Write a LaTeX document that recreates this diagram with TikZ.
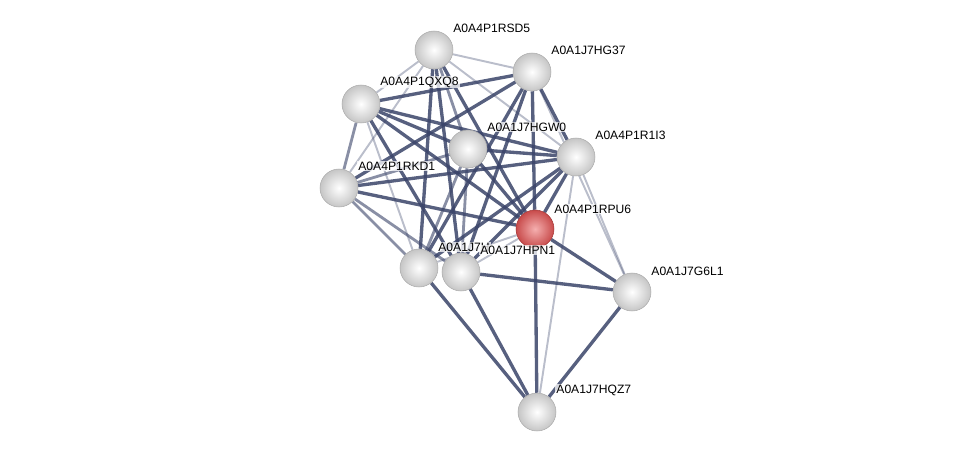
\documentclass[tikz,border=0pt]{standalone}
\usepackage{fontspec}
\setmainfont{Liberation Sans}
\pgfdeclarelayer{edges}
\pgfsetlayers{edges,main}
\definecolor{edgecol}{RGB}{58,68,105}
\definecolor{redin}{RGB}{245,175,175}
\definecolor{redout}{RGB}{200,75,75}
\definecolor{redrim}{RGB}{165,55,55}
\tikzset{
  prot/.style={circle, minimum size=0.76cm, inner sep=0pt, draw=gray!65, line width=0.3pt, inner color=white, outer color=gray!45},
  query/.style={prot, draw=redrim, inner color=redin, outer color=redout},
  lbl/.style={anchor=west, inner sep=0.6pt, fill=white, fill opacity=0.75, text opacity=1, font=\fontsize{6.9}{8}\selectfont},
  strong/.style={draw=edgecol, line width=1.9pt, opacity=0.85},
  medium/.style={draw=edgecol, line width=1.6pt, opacity=0.6},
  weak/.style={draw=edgecol, line width=1.1pt, opacity=0.35},
}
\begin{document}
\begin{tikzpicture}[x=0.02cm, y=-0.02cm]
\useasboundingbox (0,0) rectangle (976,457);
% proteins
\node[prot] (rsd5) at (434,50){};
\node[prot] (hg37) at (532,72){};
\node[prot] (qxq8) at (361,104){};
\node[prot] (hgw0) at (468,149){};
\node[prot] (r1i3) at (576,157){};
\node[prot] (rkd1) at (339,188){};
\node[query] (rpu6) at (535,229){};
\node[prot] (hq7x) at (419,268){};
\node[prot] (hpn1) at (461,272){};
\node[prot] (g6l1) at (632,292){};
\node[prot] (hqz7) at (537,412){};
% interactions
\begin{pgfonlayer}{edges}
\foreach \a/\b in {qxq8/hg37, qxq8/hgw0, qxq8/r1i3, qxq8/rpu6, qxq8/hpn1, rkd1/hg37, rkd1/r1i3,
  rkd1/rpu6, rsd5/hq7x, rsd5/hpn1, rsd5/rpu6, hg37/r1i3, hg37/rpu6, hg37/hq7x, hg37/hpn1,
  hgw0/r1i3, hgw0/rpu6, r1i3/hq7x, r1i3/hpn1, r1i3/rpu6, rpu6/g6l1, hpn1/g6l1, rpu6/hqz7,
  hq7x/hqz7, hpn1/hqz7, g6l1/hqz7}
  \draw[strong] (\a) -- (\b);
\foreach \a/\b in {qxq8/rkd1, rkd1/hq7x, rkd1/hpn1, rkd1/hgw0, hgw0/hq7x, hgw0/hpn1, rsd5/hgw0}
  \draw[medium] (\a) -- (\b);
\foreach \a/\b in {rsd5/qxq8, rsd5/hg37, rsd5/rkd1, rsd5/r1i3, r1i3/g6l1, r1i3/hqz7, qxq8/hq7x,
  hg37/g6l1, rpu6/hq7x, rpu6/hpn1}
  \draw[weak] (\a) -- (\b);
\end{pgfonlayer}
% labels
\node[lbl] (l-rsd5) at (452,28) {A0A4P1RSD5};
\node[lbl] (l-hg37) at (550,50) {A0A1J7HG37};
\node[lbl] (l-qxq8) at (379,82) {A0A4P1QXQ8};
\node[lbl] (l-hgw0) at (486,127) {A0A1J7HGW0};
\node[lbl] (l-r1i3) at (594,135) {A0A4P1R1I3};
\node[lbl] (l-rkd1) at (357,166) {A0A4P1RKD1};
\node[lbl] (l-rpu6) at (553,209) {A0A4P1RPU6};
\node[lbl] (l-hq7x) at (437,247) {A0A1J7H};
\node[lbl] (l-hpn1) at (479,250) {A0A1J7HPN1};
\node[lbl] (l-g6l1) at (650,271) {A0A1J7G6L1};
\node[lbl] (l-hqz7) at (555,390) {A0A1J7HQZ7};
\end{tikzpicture}
\end{document}
